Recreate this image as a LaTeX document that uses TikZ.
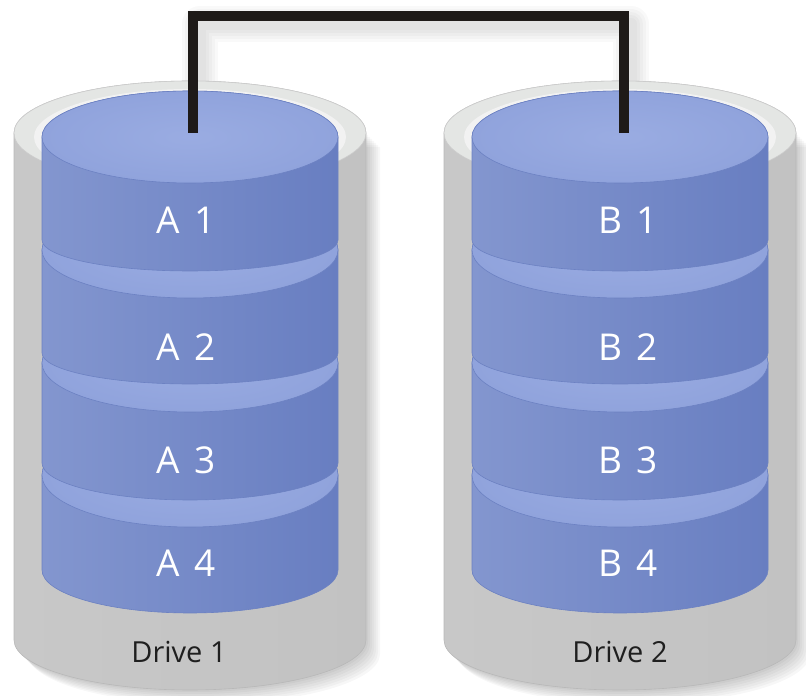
\documentclass[tikz,border=0pt]{standalone}
\usepackage{fontspec}
\setmainfont{Open Sans}
\usepackage{tikz}

\definecolor{dskL}{HTML}{8396CF}
\definecolor{dskM}{HTML}{A3B2E0}
\definecolor{dskR}{HTML}{687EC1}
\definecolor{dskT}{HTML}{90A3DC}
\definecolor{dskTi}{HTML}{9AACE2}
\definecolor{dskE}{HTML}{6C81C2}
\definecolor{caseL}{HTML}{C8C8C8}
\definecolor{caseM}{HTML}{E0E0E0}
\definecolor{caseR}{HTML}{C2C2C2}
\definecolor{rim}{HTML}{E4E6E4}
\definecolor{cablecol}{HTML}{1E1A18}

\begin{document}
\begin{tikzpicture}[x=1pt,y=1pt,
    disklabel/.style={text=white,font=\fontsize{37}{37}\selectfont},
    drivelabel/.style={text=black!88,font=\fontsize{29}{29}\selectfont},
    cable/.style={line width=10pt,draw=cablecol,line join=miter},
    cableshadow/.style={line width=#1,draw=black,opacity=.025,line join=round}]
\useasboundingbox (0,0) rectangle (806,696);

% cable ends and bend
\coordinate (topA) at (193,563);
\coordinate (topB) at (624,563);
\coordinate (bus) at (408,680);

% soft shadow of the cable
\foreach \w in {36,30,24,18,12}
    \draw[cableshadow=\w pt,transform canvas={xshift=7pt,yshift=-8pt}] (topA) |- (bus) -| (topB);

\foreach \X/\lx/\s/\n in {190/186/A/1, 620/628/B/2} {
    % case shadow
    \foreach \o in {2,4,...,14}
        \fill[black,opacity=.03] (\X-176+\o,563-\o) -- (\X-176+\o,56-\o)
            arc[start angle=180,end angle=360,x radius=176,y radius=50]
            -- (\X+176+\o,563-\o) -- cycle;
    % case
    \shade[left color=caseL,middle color=caseM,right color=caseR,draw=black!28,line width=.6pt]
        (\X-176,563) -- (\X-176,56)
        arc[start angle=180,end angle=360,x radius=176,y radius=50]
        -- (\X+176,563)
        arc[start angle=0,end angle=180,x radius=176,y radius=52] -- cycle;
    \fill[rim] (\X,563) ellipse (176 and 52);
    \draw[black!20,line width=.6pt] (\X,563) ellipse (176 and 52);
    \fill[black!5] (\X,559) ellipse (156 and 48);
    % platters, bottom one first
    \foreach \t/\rt/\b/\rb/\ly/\k in {221/52/126/43/133/4, 333/49/233/37/236/3,
                                      446/48/343/31/349/2, 559/46/456/31/476/1} {
        \shade[left color=dskL,middle color=dskM,right color=dskR,draw=dskE,line width=.6pt]
            (\X-148,\t) -- (\X-148,\b)
            arc[start angle=180,end angle=360,x radius=148,y radius=\rb]
            -- (\X+148,\t)
            arc[start angle=0,end angle=180,x radius=148,y radius=\rt] -- cycle;
        \shade[inner color=dskTi,outer color=dskT,draw=dskE,line width=.6pt]
            (\X,\t) ellipse (148 and \rt);
        \node[disklabel] (\s\k) at (\lx,\ly) {\s\hspace{.4em}\k};
    }
}

\node[drivelabel] (drive1) at (179,44) {Drive 1};
\node[drivelabel] (drive2) at (620,44) {Drive 2};

% cable
\draw[cable] (topA) |- (bus) -| (topB);
\end{tikzpicture}
\end{document}
